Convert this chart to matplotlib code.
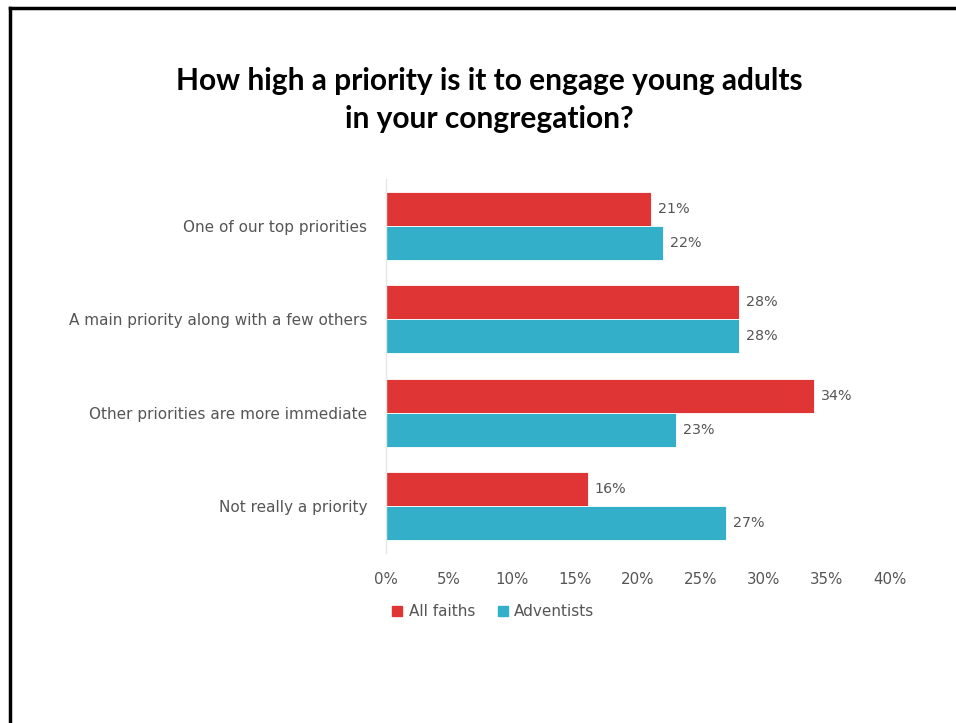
import matplotlib
matplotlib.use("Agg")
import matplotlib.pyplot as plt
from matplotlib.lines import Line2D
import numpy as np

categories = [
    "One of our top priorities",
    "A main priority along with a few others",
    "Other priorities are more immediate",
    "Not really a priority",
]
all_faiths = [21, 28, 34, 16]
adventists = [22, 28, 23, 27]
series_names = ["All faiths", "Adventists"]
xticks = [0, 5, 10, 15, 20, 25, 30, 35, 40]

RED = "#E03535"
BLUE = "#33AFCA"
GREY = "#555555"
BODY_FONT = ["DejaVu Sans"]

plt.rcParams["font.family"] = ["Lato", "DejaVu Sans"]

fig = plt.figure(figsize=(9.56, 7.23), dpi=100)
fig.patch.set_facecolor("white")

# frame lines along the top and left edges
fig.add_artist(Line2D([9.5 / 956, 9.5 / 956], [0, 1 - 8 / 723], transform=fig.transFigure,
                      color="black", lw=2.5))
fig.add_artist(Line2D([9.5 / 956, 1], [1 - 8 / 723, 1 - 8 / 723], transform=fig.transFigure,
                      color="black", lw=2.5))

fig.text(0.512, 1 - 81 / 723, "How high a priority is it to engage young adults",
         ha="center", va="center", fontsize=21.5, fontweight="bold", color="black")
fig.text(0.512, 1 - 119 / 723, "in your congregation?",
         ha="center", va="center", fontsize=21.5, fontweight="bold", color="black")

ax = fig.add_axes([386 / 956, 1 - 553 / 723, (890 - 386) / 956, (553 - 179) / 723])

y = np.arange(len(categories))
h = 0.365
ax.barh(y - h / 2, all_faiths, height=h, color=RED, edgecolor="white", linewidth=0.6)
ax.barh(y + h / 2, adventists, height=h, color=BLUE, edgecolor="white", linewidth=0.6)

for yi, v in zip(y, all_faiths):
    ax.text(v + 0.55, yi - h / 2, f"{v}%", va="center", ha="left", fontsize=10.3,
            color=GREY, family=BODY_FONT)
for yi, v in zip(y, adventists):
    ax.text(v + 0.55, yi + h / 2, f"{v}%", va="center", ha="left", fontsize=10.3,
            color=GREY, family=BODY_FONT)

ax.set_xlim(0, 40)
ax.set_ylim(len(categories) - 0.5, -0.5)
ax.set_yticks(y)
ax.set_yticklabels(categories, fontsize=11, color=GREY, family=BODY_FONT)
ax.set_xticks(xticks)
ax.set_xticklabels([f"{t}%" for t in xticks], fontsize=10.8, color=GREY, family=BODY_FONT)
ax.tick_params(axis="both", length=0)
ax.tick_params(axis="y", pad=13.5)
ax.tick_params(axis="x", pad=13.5)
for s in ["top", "right", "bottom"]:
    ax.spines[s].set_visible(False)
ax.spines["left"].set_color("#E6E6E6")
ax.spines["left"].set_linewidth(1)

handles = [
    Line2D([], [], marker="s", linestyle="none", markersize=7.5, color=RED),
    Line2D([], [], marker="s", linestyle="none", markersize=7.5, color=BLUE),
]
fig.legend(handles, series_names, loc="center", bbox_to_anchor=(492 / 956, 1 - 612 / 723),
           ncol=2, frameon=False, prop={"family": BODY_FONT, "size": 11},
           labelcolor=GREY, handletextpad=0.25, columnspacing=1.3, handlelength=1.0)

fig.savefig("out.png", dpi=100, facecolor="white")
